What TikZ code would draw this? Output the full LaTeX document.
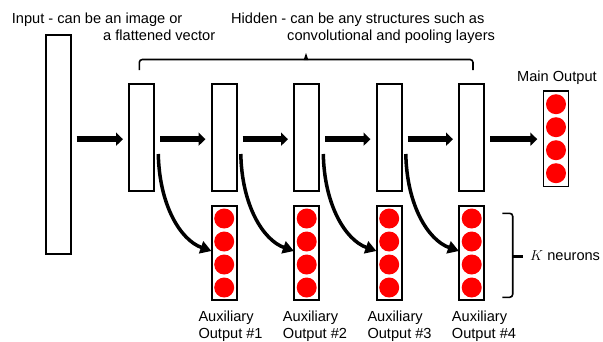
\documentclass[tikz,border=0pt]{standalone}
\usepackage{fontspec}
\setmainfont{Liberation Sans}
\usetikzlibrary{arrows.meta,calc}
\begin{document}
\begin{tikzpicture}[x=1pt,y=-1pt,
  layer/.style={draw=black,line width=1.6pt,fill=white,inner sep=0pt,minimum width=25pt},
  neuron/.style={circle,fill=red,inner sep=0pt,minimum size=20pt},
  flow/.style={line width=6.5pt,-{Triangle[length=7pt,width=13pt]},shorten <=5pt,shorten >=5.4pt},
  tap/.style={line width=3.5pt,-{Triangle[length=11pt,width=12.5pt]}},
  brace/.style={line width=1.6pt,rounded corners=3pt},
  lbl/.style={font=\fontsize{14.6pt}{17.5pt}\selectfont,inner sep=0pt,anchor=base west}]
\useasboundingbox (0,0) rectangle (603,341);

% input layer
\node[layer,minimum height=219pt] (in) at (58.3,144.5) {};

% hidden layers and auxiliary outputs
\foreach \i in {1,...,5} {
  \node[layer,minimum height=107pt] (h\i) at ({141.7+82.5*(\i-1)},137.2) {};
}
\foreach \i in {1,...,4} {
  \node[layer,minimum height=94.5pt] (x\i) at ({224.2+82.5*(\i-1)},253) {};
  \foreach \k/\dy in {1/-34.5,2/-11.5,3/11.5,4/34.5}
    \node[neuron] (x\i n\k) at ($(x\i)+(0,\dy)$) {};
}

% main output
\node[layer,minimum height=95.5pt] (out) at (556,138.7) {};
\foreach \k/\dy in {1/-34.5,2/-11.5,3/11.5,4/34.5}
  \node[neuron] (out n\k) at ($(out)+(0,\dy)$) {};

% forward flow
\draw[flow] ($(in.east|-h1.west)+(0,2)$) -- ($(h1.west)+(0,2)$);
\foreach \i/\j in {1/2,2/3,3/4,4/5}
  \draw[flow] ($(h\i.east)+(0,2)$) -- ($(h\j.west)+(0,2)$);
\draw[flow] ($(h5.east)+(0,2)$) -- ($(out.west|-h5.east)+(0,2)$);

% taps to auxiliary outputs
\foreach \i in {1,...,4}
  \draw[tap] ($(h\i.east)+(3.3,16.8)$) .. controls +(1,51) and +(-31,-11) .. ($(x\i.west)+(0.5,-2)$);

% braces
\draw[brace] (139.3,70) -- (139.3,59.5) -- (473,59.5) -- (473,70);
\fill (303.6,60) -- (306,53) -- (308.4,60) -- cycle;
\draw[brace] (502.3,213.3) -- (512.7,213.3) -- (512.7,297.3) -- (502.3,297.3);
\draw[line width=3pt] (512.7,256.7) -- (522.7,256.7);

% labels
\node[lbl] (t1) at (11.7,23.3) {Input - can be an image or};
\node[lbl] (t2) at (103,40.7) {a flattened vector};
\node[lbl] (t3) at (231,23.5) {Hidden - can be any structures such as};
\node[lbl] (t4) at (287,40.7) {convolutional and pooling layers};
\node[lbl] (t5) at (517,81) {Main Output};
\node[lbl] (t6) at (530,260) {$K$ neurons};
\foreach \i/\xx in {1/198.3,2/282.7,3/367.3,4/451.7} {
  \node[lbl] (a\i) at (\xx,321) {Auxiliary};
  \node[lbl] (o\i) at (\xx,338.3) {Output \#\i};
}
\end{tikzpicture}
\end{document}
